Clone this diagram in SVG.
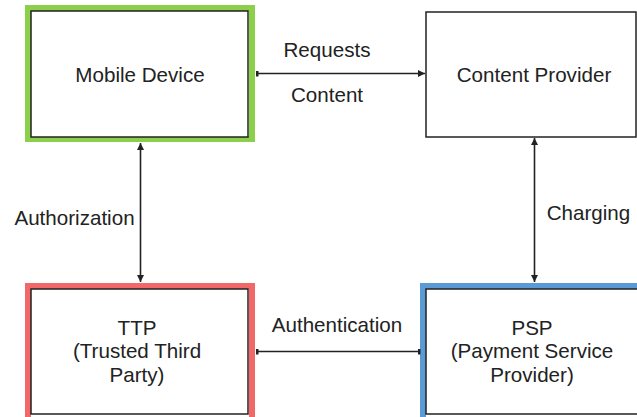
<svg xmlns="http://www.w3.org/2000/svg" width="637" height="417" viewBox="0 0 637 417">
<defs>
<style>
.box{fill:#fff;stroke:#222;stroke-width:1.5}
.frame{fill:none;stroke-width:6}
.t{font-family:"Liberation Sans",Arial,sans-serif;font-size:20.6px;fill:#222;text-anchor:middle}
.c{stroke:#222;stroke-width:1.6;fill:none}
.aa{marker-start:url(#ah);marker-end:url(#ah)}
.ta{marker-start:url(#tk);marker-end:url(#ah)}
.tt{marker-start:url(#tk);marker-end:url(#tk)}
</style>
<marker id="ah" viewBox="0 0 10 10" refX="10" refY="5" markerWidth="7" markerHeight="7" markerUnits="userSpaceOnUse" orient="auto-start-reverse">
<path d="M0,0 L10,5 L0,10 z" fill="#222"/>
</marker>
<marker id="tk" viewBox="0 0 4 8" refX="2" refY="4" markerWidth="3" markerHeight="6" markerUnits="userSpaceOnUse" orient="auto">
<rect x="0" y="0" width="4" height="8" fill="#222"/>
</marker>
</defs>
<rect width="637" height="417" fill="#fff"/>
<g id="mobile-device">
<rect class="frame" x="28" y="8" width="224" height="131" stroke="#8ccf4a"/>
<rect class="box" x="31" y="11" width="217" height="126"/>
<text class="t" x="140" y="82">Mobile Device</text>
</g>
<g id="content-provider">
<rect class="box" x="426" y="12" width="210" height="125"/>
<text class="t" x="534" y="82">Content Provider</text>
</g>
<g id="ttp">
<rect class="frame" x="28" y="286" width="224" height="134" stroke="#f26767"/>
<rect class="box" x="31" y="289" width="217" height="125"/>
<text class="t" x="137" y="335">TTP</text>
<text class="t" x="137" y="358">(Trusted Third</text>
<text class="t" x="137" y="382">Party)</text>
</g>
<g id="psp">
<rect class="frame" x="423" y="286" width="220" height="134" stroke="#5b9bd5"/>
<rect class="box" x="426" y="289" width="215" height="125"/>
<text class="t" x="532" y="335">PSP</text>
<text class="t" x="532" y="358">(Payment Service</text>
<text class="t" x="532" y="382">Provider)</text>
</g>
<g id="connectors">
<line class="c ta" x1="257" y1="73.5" x2="425" y2="73.5"/>
<line class="c aa" x1="140.5" y1="143" x2="140.5" y2="282"/>
<line class="c aa" x1="534.5" y1="138" x2="534.5" y2="282"/>
<line class="c tt" x1="257" y1="351.5" x2="419" y2="351.5"/>
<text class="t" x="327" y="57">Requests</text>
<text class="t" x="327" y="102">Content</text>
<text class="t" x="74.5" y="225">Authorization</text>
<text class="t" x="588.5" y="220">Charging</text>
<text class="t" x="337" y="332">Authentication</text>
</g>
</svg>
